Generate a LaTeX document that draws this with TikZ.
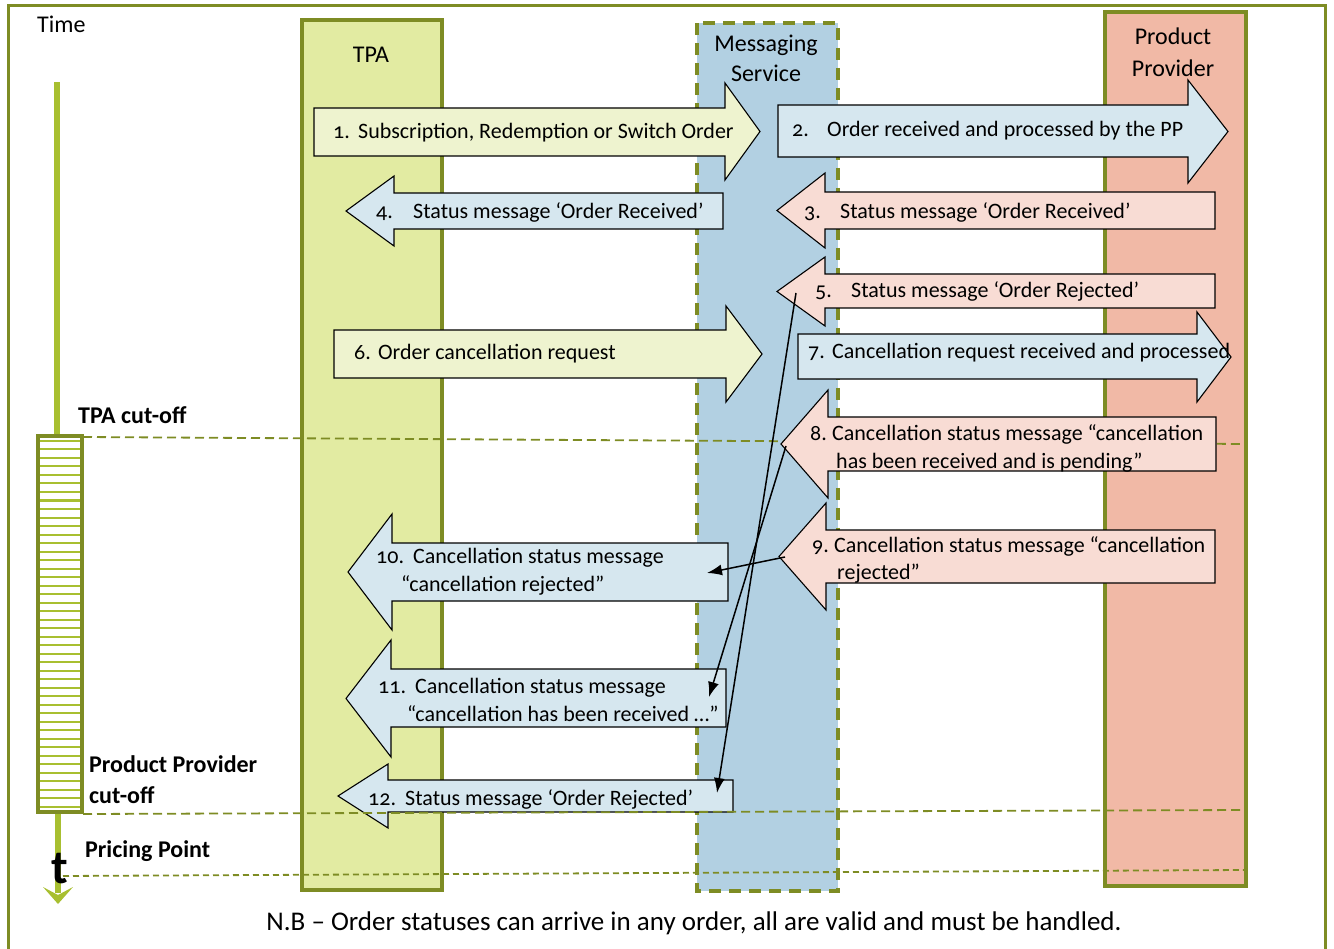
\documentclass[tikz,border=0pt]{standalone}
\usepackage{fontspec}
\setmainfont{Carlito}[Numbers=OldStyle]
\usetikzlibrary{arrows.meta}

\definecolor{olivebd}{HTML}{7E8C24}
\definecolor{limeline}{HTML}{A8BF30}
\definecolor{tpafill}{HTML}{E2EBA2}
\definecolor{msfill}{HTML}{B2D0E2}
\definecolor{ppfill}{HTML}{F1B9A6}
\definecolor{arrYellow}{HTML}{EEF3CF}
\definecolor{arrBlue}{HTML}{D6E7EF}
\definecolor{arrPink}{HTML}{F8DCD4}

\tikzset{
  lane/.style={draw=olivebd, line width=4pt},
  blk/.style={draw=black, line width=1.1pt, line join=miter},
  msg/.style={anchor=base west, inner sep=0pt, font=\fontsize{22}{28}\selectfont},
  lanetitle/.style={anchor=base, inner sep=0pt, font=\fontsize{24}{30}\selectfont},
  boldlbl/.style={anchor=base west, inner sep=0pt, font=\bfseries\fontsize{24}{30}\selectfont},
  cutline/.style={draw=olivebd, line width=1.8pt, dash pattern=on 9pt off 5pt},
  conn/.style={draw=black, line width=1.5pt, -{Latex[length=15pt,width=11pt]}},
}

% block arrow: fill, tail x, head-base x, tip x, body top, body bottom, head top, head bottom
\newcommand\blockarrow[8]{%
  \filldraw[blk, fill=#1] (#2,#5) -- (#3,#5) -- (#3,#7) -- (#4,{(#7+#8)/2})
    -- (#3,#8) -- (#3,#6) -- (#2,#6) -- cycle;}

\begin{document}
\begin{tikzpicture}[x=1pt, y=-1pt]
\useasboundingbox (0,0) rectangle (1334,949);

% outer frame
\draw[olivebd, line width=3pt] (8,6) rectangle (1325,965);

% swim lanes
\filldraw[lane, fill=tpafill] (302,20) rectangle (442,890);
\filldraw[fill=msfill, draw=olivebd, line width=3.5pt, dash pattern=on 12pt off 8pt] (697,23) rectangle (838,891);
\filldraw[lane, fill=ppfill] (1105,12) rectangle (1246,886);

\node[lanetitle] (tpa) at (371,63) {TPA};
\node[lanetitle] (ms1) at (766,52) {Messaging};
\node[lanetitle] (ms2) at (766,82) {Service};
\node[lanetitle] (pp1) at (1173,45) {Product};
\node[lanetitle] (pp2) at (1173,77) {Provider};

% time axis
\node[anchor=base west, inner sep=0pt, font=\fontsize{24}{30}\selectfont] (time) at (37,33) {Time};
\draw[limeline, line width=6pt] (57,82) -- (57,436);
\draw[limeline, line width=6pt] (58,812) -- (58,893);
\fill[limeline] (58,904) -- (43,887) -- (58,895) -- (73,887) -- cycle;
\fill[white] (38,436) rectangle (82,812);
\foreach \k in {0,...,43} {
  \draw[limeline, line width=2pt] (39,{441+8.5*\k}) -- (81,{441+8.5*\k});
}
\draw[olivebd, line width=3.5pt] (38,436) rectangle (82,812);
\node[anchor=base, inner sep=0pt, font=\bfseries\fontsize{48}{48}\selectfont] (tee) at (60,883) {t};

\node[boldlbl] (tpacut) at (78,424) {TPA cut-off};
\node[boldlbl] (ppcut1) at (89,772) {Product Provider};
\node[boldlbl] (ppcut2) at (89,803) {cut-off};
\node[boldlbl] (pricing) at (85,857) {Pricing Point};

% TPA cut-off line runs beneath the messages
\draw[cutline] (83,437) -- (1247,444);

% messages
\blockarrow{arrYellow}{314}{725}{760}{108}{156}{83}{180}
\node[msg] (m1) at (333,139) {\makebox[25pt][l]{1.}Subscription, Redemption or Switch Order};

\blockarrow{arrBlue}{778}{1188}{1228}{105}{157}{80}{183}
\node[msg] (m2) at (792,137) {\makebox[35pt][l]{2.}Order received and processed by the PP};

\blockarrow{arrPink}{1215}{825}{777}{192}{229}{173}{248}
\node[msg] (m3) at (804,219) {\makebox[36pt][l]{3.}Status message ‘Order Received’};

\blockarrow{arrBlue}{723}{394}{346}{193}{229}{176}{246}
\node[msg] (m4) at (376,219) {\makebox[37pt][l]{4.}Status message ‘Order Received’};

\blockarrow{arrPink}{1215}{825}{777}{274}{308}{257}{326}
\node[msg] (m5) at (815,298) {\makebox[36pt][l]{5.}Status message ‘Order Rejected’};

\blockarrow{arrYellow}{334}{726}{762}{330}{378}{306}{402}
\node[msg] (m6) at (354,360) {\makebox[24pt][l]{6.}Order cancellation request};

\blockarrow{arrBlue}{798}{1197}{1231}{334}{379}{312}{402}
\node[msg] (m7) at (808,359) {\makebox[24pt][l]{7.}Cancellation request received and processed};

\blockarrow{arrPink}{1216}{828}{781}{417}{471}{390}{498}
\node[msg] (m8a) at (810,441) {\makebox[22pt][l]{8.}Cancellation status message “cancellation};
\node[msg] (m8b) at (836,469) {has been received and is pending”};

\blockarrow{arrPink}{1215}{826}{779}{530}{583}{503}{610}
\node[msg] (m9a) at (812,552) {\makebox[22pt][l]{9.}Cancellation status message “cancellation};
\node[msg] (m9b) at (837,579) {rejected”};

\blockarrow{arrBlue}{728}{392}{348}{543}{601}{514}{630}
\node[msg] (m10a) at (376,563) {\makebox[37pt][l]{10.}Cancellation status message};
\node[msg] (m10b) at (401,591) {“cancellation rejected”};

\blockarrow{arrBlue}{726}{391}{346}{669}{727}{640}{757}
\node[msg] (m11a) at (378,693) {\makebox[37pt][l]{11.}Cancellation status message};
\node[msg] (m11b) at (407,721) {“cancellation has been received …”};

\blockarrow{arrBlue}{733}{388}{338}{780}{812}{764}{828}
\node[msg] (m12) at (368,805) {\makebox[37pt][l]{12.}Status message ‘Order Rejected’};

% later cut-off lines
\draw[cutline] (83,814) -- (1247,810);
\draw[draw=olivebd, line width=1.8pt, dash pattern=on 6pt off 4pt] (63,876) -- (1244,870);

% forwarding of late statuses
\coordinate (from5) at (796,293);
\coordinate (to12) at (717,793);
\coordinate (from8) at (786,446);
\coordinate (to11) at (709,697);
\coordinate (from9) at (785,557);
\coordinate (to10) at (707,573);
\draw[conn] (from5) -- (to12);
\draw[conn] (from8) -- (to11);
\draw[conn] (from9) -- (to10);

\node[anchor=base, inner sep=0pt, font=\fontsize{27}{32}\selectfont] (note) at (694,930)
  {N.B – Order statuses can arrive in any order, all are valid and must be handled.};
\end{tikzpicture}
\end{document}
